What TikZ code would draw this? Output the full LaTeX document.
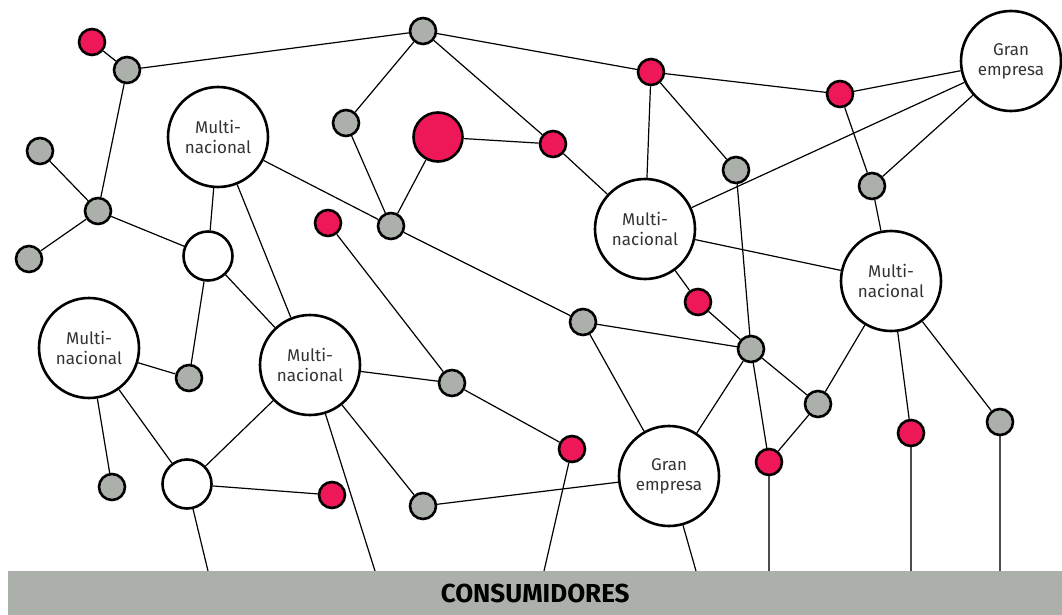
\documentclass[tikz,border=0pt]{standalone}
\usepackage{fontspec}
\setmainfont{Fira Sans}
\usetikzlibrary{backgrounds}
\definecolor{netred}{HTML}{EE1858}
\definecolor{netgrey}{HTML}{ABB1AA}

\begin{document}
\begin{tikzpicture}[x=1pt,y=-1pt,
		dot/.style={draw,circle,line width=2.6pt,minimum size=26pt,inner sep=0pt},
		gdot/.style={dot,fill=netgrey},
		rdot/.style={dot,fill=netred},
		hub/.style={draw,circle,line width=2.6pt,fill=white,minimum size=49pt,inner sep=0pt},
		firm/.style={draw,circle,line width=2.6pt,fill=white,minimum size=100pt,inner sep=0pt,align=center,text=black!80,font=\fontsize{17}{20}\selectfont},
		link/.style={black,line width=1.2pt},
		drop/.style={black!70,line width=1.1pt}]
		\useasboundingbox (0,0) rectangle (1062,615);

		% consumers
		\node[fill=netgrey,anchor=north west,minimum width=1054pt,minimum height=44pt,inner sep=0pt,font=\fontsize{26}{30}\selectfont\bfseries] at (8,571) (cons) {CONSUMIDORES};
		\coordinate (b1) at (208,571);
		\coordinate (b2) at (375,571);
		\coordinate (b3) at (544,571);
		\coordinate (b4) at (696,571);
		\coordinate (b5) at (769,571);
		\coordinate (b6) at (911,571);
		\coordinate (b7) at (1000,571);

		% firms
		\node[firm] at (218,137) (m1) {Multi-\\nacional};
		\node[firm] at (645,229) (m2) {Multi-\\nacional};
		\node[firm] at (891,281) (m3) {Multi-\\nacional};
		\node[firm] at (89,348) (m4) {Multi-\\nacional};
		\node[firm] at (310,365) (m5) {Multi-\\nacional};
		\node[firm] at (1011,61) (e1) {Gran\\empresa};
		\node[firm] at (669,476) (e2) {Gran\\empresa};

		% white and big red
		\node[hub] at (208,256) (w1) {};
		\node[hub] at (187,484) (w2) {};
		\node[hub,fill=netred] at (438,137) (rr) {};

		% grey dots
		\node[gdot] at (127,70) (g1) {};
		\node[gdot] at (423,31) (g2) {};
		\node[gdot] at (346,123) (g3) {};
		\node[gdot] at (40,151) (g4) {};
		\node[gdot] at (98,211) (g5) {};
		\node[gdot] at (29,259) (g6) {};
		\node[gdot] at (391,226) (g7) {};
		\node[gdot] at (736,170) (g8) {};
		\node[gdot] at (872,186) (g9) {};
		\node[gdot] at (583,322) (g10) {};
		\node[gdot] at (751,349) (g11) {};
		\node[gdot] at (189,378) (g12) {};
		\node[gdot] at (452,383) (g13) {};
		\node[gdot] at (818,404) (g14) {};
		\node[gdot] at (1000,422) (g15) {};
		\node[gdot] at (112,487) (g16) {};
		\node[gdot] at (423,506) (g17) {};

		% red dots
		\node[rdot] at (92,42) (r1) {};
		\node[rdot] at (651,72) (r2) {};
		\node[rdot] at (840,94) (r3) {};
		\node[rdot] at (553,144) (r4) {};
		\node[rdot] at (328,223) (r5) {};
		\node[rdot] at (698,302) (r6) {};
		\node[rdot] at (572,449) (r7) {};
		\node[rdot] at (769,462) (r8) {};
		\node[rdot] at (911,433) (r9) {};
		\node[rdot] at (332,495) (r10) {};

		\begin{scope}[on background layer]
			\draw[link] (r1) to (g1);
			\draw[link] (g1) to (g2);
			\draw[link] (g1) to (g5);
			\draw[link] (g5) to (g4);
			\draw[link] (g5) to (g6);
			\draw[link] (g5) to (w1);
			\draw[link] (g2) to (g3);
			\draw[link] (g2) to (r4);
			\draw[link] (g2) to (r2);
			\draw[link] (g3) to (g7);
			\draw[link] (rr) to (g7);
			\draw[link] (rr) to (r4);
			\draw[link] (r4) to (m2);
			\draw[link] (m1) to (g7);
			\draw[link] (m1) to (w1);
			\draw[link] (m1) to (m5);
			\draw[link] (w1) to (m5);
			\draw[link] (w1) to (g12);
			\draw[link] (g7) to (g10);
			\draw[link] (r5) to (g13);
			\draw[link] (r2) to (r3);
			\draw[link] (r2) to (m2);
			\draw[link] (r2) to (g8);
			\draw[link] (r3) to (e1);
			\draw[link] (r3) to (g9);
			\draw[link] (e1) to (m2);
			\draw[link] (e1) to (g9);
			\draw[link] (g9) to (m3);
			\draw[link] (m2) to (m3);
			\draw[link] (m2) to (r6);
			\draw[link] (r6) to (g11);
			\draw[link] (g8) to (g11);
			\draw[link] (g10) to (g11);
			\draw[link] (g10) to (e2);
			\draw[link] (e2) to (g11);
			\draw[link] (g11) to (g14);
			\draw[link] (g11) to (r8);
			\draw[link] (m3) to (g14);
			\draw[link] (m3) to (r9);
			\draw[link] (m3) to (g15);
			\draw[link] (g14) to (r8);
			\draw[link] (m4) to (g12);
			\draw[link] (m4) to (g16);
			\draw[link] (m4) to (w2);
			\draw[link] (w2) to (m5);
			\draw[link] (w2) to (r10);
			\draw[link] (m5) to (g13);
			\draw[link] (m5) to (g17);
			\draw[link] (g13) to (r7);
			\draw[link] (g17) to (e2);
			\draw[link] (w2) to (b1);
			\draw[link] (m5) to (b2);
			\draw[link] (r7) to (b3);
			\draw[link] (e2) to (b4);
			\draw[drop] (r8) to (b5);
			\draw[drop] (r9) to (b6);
			\draw[drop] (g15) to (b7);
		\end{scope}
	\end{tikzpicture}
\end{document}
